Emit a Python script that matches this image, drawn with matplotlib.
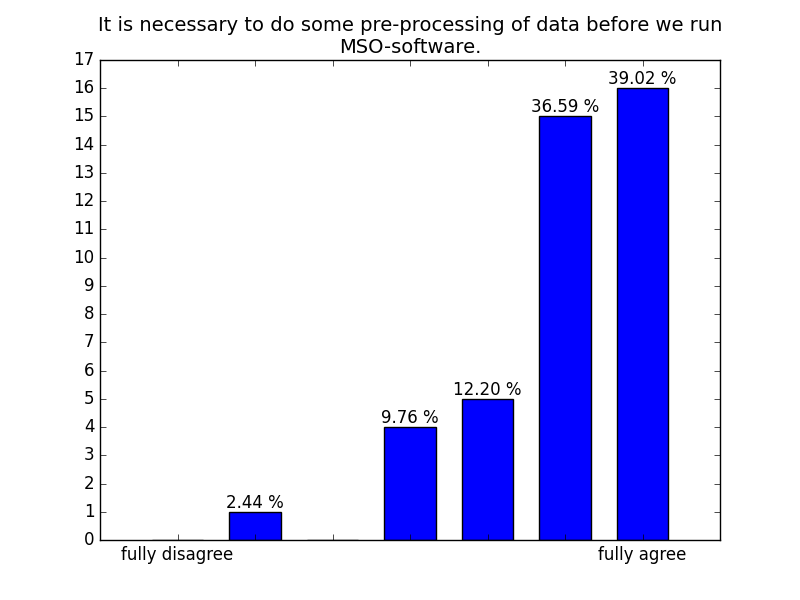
import matplotlib
matplotlib.use("Agg")
import matplotlib.pyplot as plt

counts = [0, 1, 0, 4, 5, 15, 16]
positions = [1, 2, 3, 4, 5, 6, 7]
tick_labels = ["fully disagree", "", "", "", "", "", "fully agree"]
title = "It is necessary to do some pre-processing of data before we run\nMSO-software."

plt.style.use("classic")
fig = plt.figure(figsize=(8, 6), dpi=100, facecolor="white")
ax = fig.add_subplot(111)
bars = ax.bar(positions, counts, width=0.66, align="center", color="blue", edgecolor="black")
total = sum(counts)
for b, c in zip(bars, counts):
    if c > 0:
        ax.text(b.get_x() + b.get_width() / 2, c, "%.2f %%" % (100.0 * c / total),
                ha="center", va="bottom", fontsize=12)
ax.set_xlim(0, 8)
ax.set_ylim(0, 17)
ax.set_yticks(range(0, 18))
ax.set_xticks(positions)
ax.set_xticklabels(tick_labels)
ax.set_title(title, fontsize=14)
fig.savefig("out.png", dpi=100, facecolor="white")
